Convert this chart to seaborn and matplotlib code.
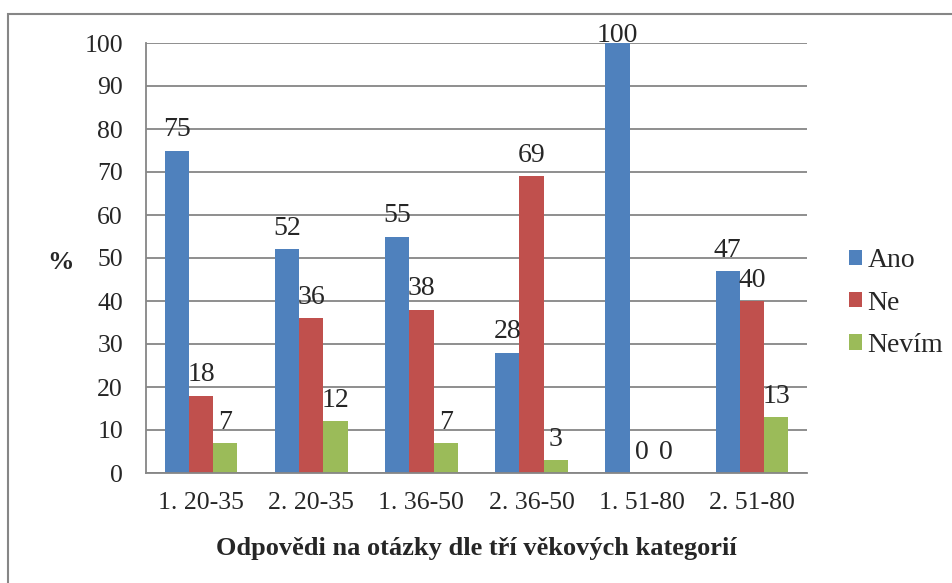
# Odpovědi na otázky dle tří věkových kategorií - grouped bar chart

import pandas as pd
import matplotlib.pyplot as plt
import seaborn as sns
from matplotlib.patches import Rectangle

categories = ["1. 20-35", "2. 20-35", "1. 36-50", "2. 36-50", "1. 51-80", "2. 51-80"]
ano = [75, 52, 55, 28, 100, 47]
ne = [18, 36, 38, 69, 0, 40]
nevim = [7, 12, 7, 3, 0, 13]
series_names = ["Ano", "Ne", "Nevím"]
colors = ["#4F81BD", "#C0504D", "#9BBB59"]

df = pd.DataFrame({
    "kategorie": categories * 3,
    "odpoved": [series_names[0]] * 6 + [series_names[1]] * 6 + [series_names[2]] * 6,
    "hodnota": ano + ne + nevim,
})

sns.set_style("white")
plt.rcParams["font.family"] = ["Liberation Serif", "DejaVu Serif"]
grey = "#868686"

fig = plt.figure(figsize=(9.53, 5.83), dpi=100)
ax = fig.add_axes([146 / 953, 1 - 473 / 583, (807 - 146) / 953, (473 - 43) / 583])

sns.barplot(
    data=df, x="kategorie", y="hodnota", hue="odpoved",
    palette=colors, width=0.66, ax=ax, saturation=1, linewidth=0,
)

# value labels (the 100 label is squeezed against the top like in Excel)
for cont in ax.containers:
    for t in ax.bar_label(cont, fontsize=20, padding=6):
        if t.get_text() == "100":
            t.xyann = (0, -3.4)

ax.set_ylim(0, 100)
ax.set_yticks(range(0, 101, 10))
ax.set_xlim(-0.5, 5.5)
ax.grid(axis="y", color=grey, linewidth=1.3)
ax.set_axisbelow(True)
ax.set_xticks([i - 0.5 for i in range(7)], minor=True)
ax.tick_params(axis="x", which="major", length=0, labelsize=18.5, pad=14)
ax.tick_params(axis="x", which="minor", length=7, width=1.3, color=grey)
ax.tick_params(axis="y", length=8, width=1.3, color=grey, labelsize=18.5, pad=8.5)
for s in ["top", "right"]:
    ax.spines[s].set_visible(False)
for s in ["left", "bottom"]:
    ax.spines[s].set_color(grey)
    ax.spines[s].set_linewidth(1.3)

ax.set_xlabel("Odpovědi na otázky dle tří věkových kategorií", fontsize=19, fontweight="bold", labelpad=16)
ax.set_ylabel("%", fontsize=19, fontweight="bold", rotation=0, va="center", ha="center")
ax.yaxis.set_label_coords(-0.13, 0.49)

leg = ax.legend(
    loc="center left", frameon=False, fontsize=20,
    handlelength=0.47, handleheight=0.47, handletextpad=0.2, labelspacing=0.62,
    borderaxespad=0, borderpad=0,
)
leg.set_bbox_to_anchor((1.0635, 0.395), transform=ax.transAxes)

# outer chart border
fig.patches.append(Rectangle((8 / 953, -0.1), 1.2, 1 - 14 / 583 + 0.1, transform=fig.transFigure,
                             fill=False, edgecolor=grey, linewidth=1.5))

fig.savefig("out.png", dpi=100)
